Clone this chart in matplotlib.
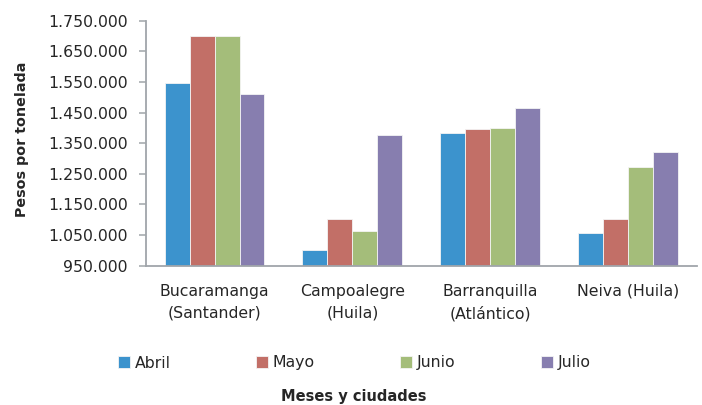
import matplotlib
matplotlib.use("Agg")
import matplotlib.pyplot as plt
import numpy as np
from matplotlib.ticker import FuncFormatter

plt.rcParams['font.family'] = ['DejaVu Sans']

categories = ["Bucaramanga\n(Santander)", "Campoalegre\n(Huila)", "Barranquilla\n(Atlántico)", "Neiva (Huila)"]
series_names = ["Abril", "Mayo", "Junio", "Julio"]
abril = [1545000, 1000000, 1384000, 1056000]
mayo = [1700000, 1104000, 1396000, 1103000]
junio = [1700000, 1062000, 1400000, 1273000]
julio = [1512000, 1376000, 1465000, 1320000]
values = [abril, mayo, junio, julio]
colors = ["#3C93CD", "#C26F67", "#A4BD7A", "#877EAF"]
yticks = [950000, 1050000, 1150000, 1250000, 1350000, 1450000, 1550000, 1650000, 1750000]

fig = plt.figure(figsize=(7.02, 4.05), dpi=100)
ax = fig.add_axes([145.7/702, 1-265.7/405, (696.7-145.7)/702, (265.7-20.7)/405])

x = np.arange(len(categories))
w = 0.181
for i, (name, vals, c) in enumerate(zip(series_names, values, colors)):
    ax.bar(x + (i - 1.5) * w, np.array(vals) - 950000, width=w, bottom=950000,
           color=c, edgecolor="#F4F4F4", linewidth=0.6, label=name)

ax.set_xlim(-0.5, len(categories) - 0.5)
ax.set_ylim(950000, 1750000)
ax.set_yticks(yticks)
ax.yaxis.set_major_formatter(FuncFormatter(lambda v, p: f"{int(v):,}".replace(",", ".")))
ax.set_xticks(x)
ax.set_xticklabels(categories, fontsize=11.3, color="#262626", linespacing=1.55)
ax.tick_params(axis='x', length=0, pad=13)
ax.tick_params(axis='y', length=5, width=1.1, color="#A0A5AA", labelsize=11.3,
               labelcolor="#262626", pad=8)
for s in ["top", "right"]:
    ax.spines[s].set_visible(False)
for s in ["left", "bottom"]:
    ax.spines[s].set_color("#A0A5AA")
    ax.spines[s].set_linewidth(1.3)

fig.text(21.7/702, 1-139/405, "Pesos por tonelada", rotation=90, ha="center", va="center",
         fontsize=10.3, fontweight="bold", color="#262626")
fig.text(353.5/702, 1-396.5/405, "Meses y ciudades", ha="center", va="center",
         fontsize=10.5, fontweight="bold", color="#262626")

leg = fig.legend(loc="center left", bbox_to_anchor=(118/702, 1-363/405), ncol=4, frameon=False,
                 fontsize=11.3, handlelength=0.75, handleheight=0.75, handletextpad=0.3,
                 columnspacing=5.45, borderpad=0, borderaxespad=0)
for t in leg.get_texts():
    t.set_color("#262626")

fig.savefig("out.png", dpi=100)
